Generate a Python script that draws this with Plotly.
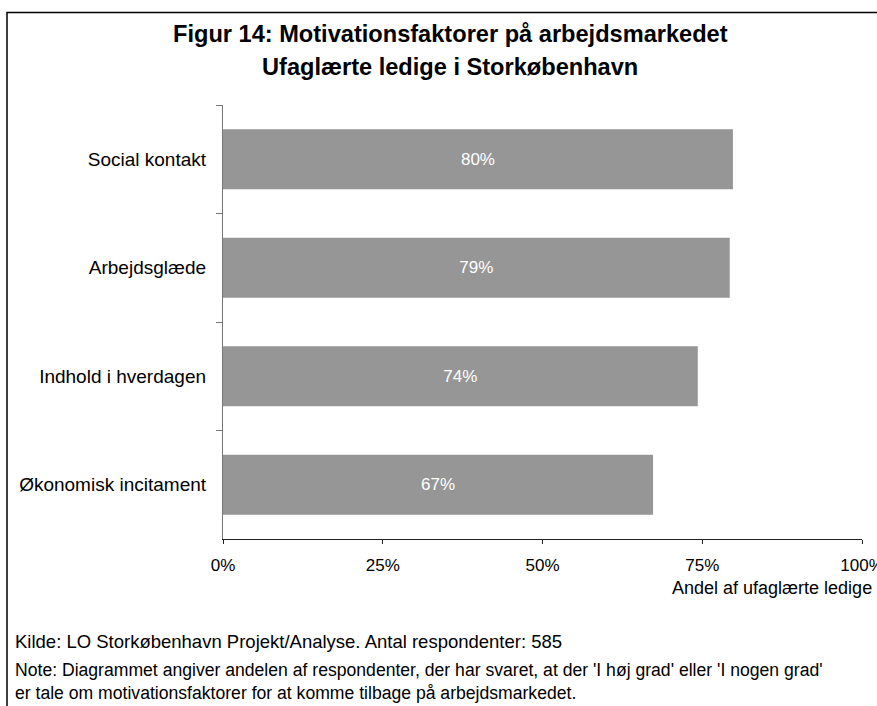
import plotly.graph_objects as go

categories = ["Social kontakt", "Arbejdsglæde", "Indhold i hverdagen", "Økonomisk incitament"]
values = [0.798, 0.793, 0.743, 0.673]
tick_vals = [0, 0.25, 0.5, 0.75, 1.0]
tick_text = ["0%", "25%", "50%", "75%", "100%"]
title_lines = ["Figur 14: Motivationsfaktorer på arbejdsmarkedet", "Ufaglærte ledige i Storkøbenhavn"]
x_title = "Andel af ufaglærte ledige"
source_text = "Kilde: LO Storkøbenhavn Projekt/Analyse. Antal respondenter: 585"
note_lines = ["Note: Diagrammet angiver andelen af respondenter, der har svaret, at der 'I høj grad' eller 'I nogen grad'",
              "er tale om motivationsfaktorer for at komme tilbage på arbejdsmarkedet."]

W, H = 877, 706
L, R, T, B = 223, 862, 105, 539
FONT = "Liberation Sans, Arial, sans-serif"


def px(x):
    return (x - L) / (R - L)


def py(y):
    return (B - y) / (B - T)


fig = go.Figure(go.Bar(
    y=categories, x=values, orientation="h",
    marker=dict(color="#969696", line=dict(width=0)),
    text=[f"{v:.0%}" for v in values], textposition="inside",
    insidetextanchor="middle", textangle=0,
    textfont=dict(color="white", size=17, family=FONT),
    hoverinfo="skip",
))

fig.update_layout(
    width=W, height=H,
    margin=dict(l=L, r=W - R, t=T, b=H - B, autoexpand=False),
    paper_bgcolor="white", plot_bgcolor="white",
    showlegend=False, bargap=0.447,
    font=dict(family=FONT, size=17, color="black"),
)
fig.update_xaxes(
    range=[0, 1], tickvals=tick_vals, ticktext=tick_text,
    showgrid=False, zeroline=False, showline=True, linecolor="#222222", linewidth=1.3,
    ticks="outside", ticklen=4, tickcolor="#222222", tickwidth=1.3,
    tickfont=dict(size=17), ticklabelstandoff=6, ticklabeloverflow="allow",
    automargin=False, fixedrange=True,
)
fig.update_yaxes(
    categoryorder="array", categoryarray=categories, autorange="reversed",
    showgrid=False, zeroline=False, showline=True, linecolor="#777777", linewidth=1.3,
    ticks="outside", ticklen=6, tickcolor="#777777", tickwidth=1.3, tickson="boundaries",
    tickfont=dict(size=19), ticklabelstandoff=12, automargin=False, fixedrange=True,
)

ann = []
for i, line in enumerate(title_lines):
    ann.append(dict(text=f"<b>{line}</b>", x=px(450), y=py([34, 67][i]), xref="paper", yref="paper",
                    xanchor="center", yanchor="middle", showarrow=False, font=dict(size=23.6)))
ann.append(dict(text=x_title, x=px(874), y=py(588), xref="paper", yref="paper",
                xanchor="right", yanchor="middle", showarrow=False, font=dict(size=18)))
ann.append(dict(text=source_text, x=px(13), y=py(641), xref="paper", yref="paper",
                xanchor="left", yanchor="middle", showarrow=False, font=dict(size=18.5)))
for i, line in enumerate(note_lines):
    ann.append(dict(text=line, x=px(13), y=py([670, 693][i]), xref="paper", yref="paper",
                    xanchor="left", yanchor="middle", showarrow=False, font=dict(size=17.6)))
fig.update_layout(annotations=ann)

fig.add_shape(type="rect", xref="paper", yref="paper",
              x0=px(7), x1=px(884), y0=py(715), y1=py(12.5),
              line=dict(color="black", width=1.5), fillcolor="rgba(0,0,0,0)", layer="above")

fig.write_html("out.html", config={"displayModeBar": False},
               post_script="document.body.style.margin='0';document.body.style.overflow='hidden';")
